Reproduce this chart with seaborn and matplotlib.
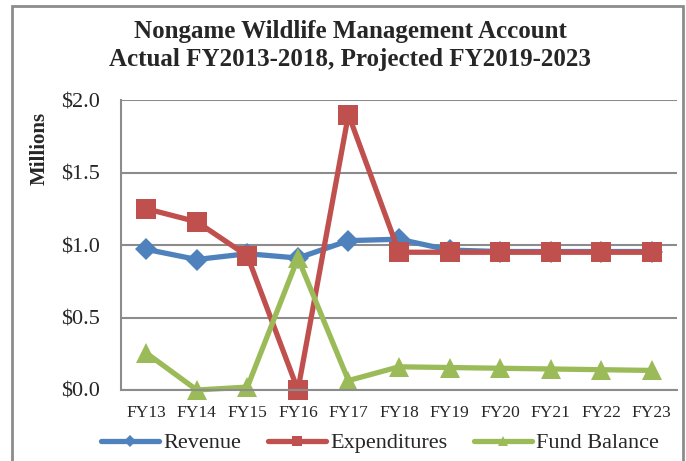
import matplotlib
matplotlib.use("Agg")
import matplotlib.pyplot as plt
import seaborn as sns
import pandas as pd
from matplotlib.patches import Rectangle
from matplotlib.lines import Line2D

years = ["FY13", "FY14", "FY15", "FY16", "FY17", "FY18", "FY19", "FY20", "FY21", "FY22", "FY23"]
revenue = [0.97, 0.90, 0.94, 0.91, 1.03, 1.04, 0.965, 0.955, 0.955, 0.955, 0.955]
expenditures = [1.25, 1.16, 0.925, 0.0, 1.90, 0.95, 0.95, 0.95, 0.95, 0.95, 0.95]
fund_balance = [0.255, 0.0, 0.02, 0.91, 0.065, 0.16, 0.155, 0.15, 0.145, 0.14, 0.135]
yticks = [0.0, 0.5, 1.0, 1.5, 2.0]
ytick_labels = ["$0.0", "$0.5", "$1.0", "$1.5", "$2.0"]

series = ["Revenue", "Expenditures", "Fund Balance"]
colors = {"Revenue": "#4F81BD", "Expenditures": "#C0504D", "Fund Balance": "#9BBB59"}
markers = {"Revenue": "D", "Expenditures": "s", "Fund Balance": "^"}
msizes = {"Revenue": 11, "Expenditures": 14, "Fund Balance": 14}

df = pd.DataFrame({
    "year": years * 3,
    "value": revenue + expenditures + fund_balance,
    "series": ["Revenue"] * len(years) + ["Expenditures"] * len(years) + ["Fund Balance"] * len(years),
})

sns.set_style("white")
plt.rcParams["font.family"] = ["Liberation Serif", "DejaVu Serif"]

fig = plt.figure(figsize=(6.86, 4.61), dpi=100)
ax = fig.add_axes([121 / 686, 1 - 390 / 461, 556 / 686, 290 / 461])

for s in series:
    sub = df[df["series"] == s]
    sns.lineplot(data=sub, x="year", y="value", ax=ax, color=colors[s],
                 marker=markers[s], markersize=msizes[s], markeredgewidth=0,
                 linewidth=3.8, sort=False, clip_on=False, legend=False)

ax.set_xlim(-0.5, len(years) - 0.5)
ax.set_ylim(0, 2.0)
ax.set_yticks(yticks)
ax.set_yticklabels(ytick_labels, fontsize=16)
ax.set_xticks(range(len(years)))
ax.set_xticklabels(years, fontsize=12.5)
ax.tick_params(axis="x", length=0, pad=11)
ax.tick_params(axis="y", length=0, pad=15)
ax.set_xlabel("")
ax.set_ylabel("Millions", fontsize=15, fontweight="bold")
ax.yaxis.set_label_coords((50 - 121) / 556, (390 - 148) / 290)
ax.yaxis.grid(True, color="#8C8C8C", linewidth=1.5)
ax.set_axisbelow(True)
for side in ["top", "right"]:
    ax.spines[side].set_visible(False)
for side in ["left", "bottom"]:
    ax.spines[side].set_color("#8C8C8C")
    ax.spines[side].set_linewidth(1.5)

fig.suptitle("Nongame Wildlife Management Account\nActual FY2013-2018, Projected FY2019-2023",
             x=350 / 686, y=1 - 20 / 461, fontsize=18, fontweight="bold", linespacing=1.3)

handles = [Line2D([0], [0], color=colors[s], marker=markers[s], markersize=msizes[s] * 0.55,
                  markeredgewidth=0, linewidth=3.8) for s in series]
fig.legend(handles, series, loc="center", bbox_to_anchor=(380 / 686, 1 - 443 / 461), ncol=3,
           frameon=False, fontsize=16, handlelength=2.6, columnspacing=1.2, handletextpad=0.2)

fig.patches.append(Rectangle((12 / 686, -0.1), 671 / 686, 1.1 - 6 / 461, transform=fig.transFigure,
                             fill=False, edgecolor="#8C8C8C", linewidth=2))

fig.savefig("out.png", dpi=100)
